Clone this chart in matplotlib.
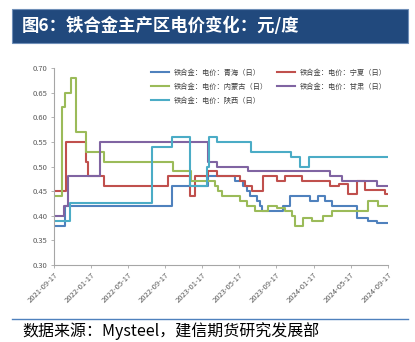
import pandas as pd
import matplotlib
matplotlib.use('Agg')
import matplotlib.pyplot as plt
import matplotlib.dates as mdates

plt.rcParams['font.family'] = ['Noto Sans CJK SC', 'DejaVu Sans']

# 数据（阶梯变化点，从图中读取）
END = '2024-09-17'

qh_dates = ['2021-09-17', '2021-10-23', '2022-10-10', '2023-02-05', '2023-05-04', '2023-05-31',
            '2023-06-11', '2023-06-22', '2023-07-14', '2023-07-25', '2023-08-01', '2023-10-08',
            '2023-11-02', '2024-01-05', '2024-02-01', '2024-02-23', '2024-03-17', '2024-06-06',
            '2024-07-13', '2024-08-11']
qh_vals = [0.38, 0.42, 0.46, 0.48, 0.47, 0.46, 0.45, 0.44, 0.43, 0.42, 0.41, 0.42,
           0.44, 0.43, 0.44, 0.43, 0.42, 0.395, 0.39, 0.385]

nx_dates = ['2021-09-17', '2021-10-25', '2021-12-31', '2022-01-07', '2022-03-01', '2022-09-26',
            '2022-12-07', '2022-12-24', '2023-02-05', '2023-03-05', '2023-05-20', '2023-06-06',
            '2023-06-29', '2023-08-05', '2023-09-18', '2023-10-15', '2023-12-09', '2024-03-11',
            '2024-04-09', '2024-05-10', '2024-06-06', '2024-07-04', '2024-09-07']
nx_vals = [0.45, 0.55, 0.51, 0.48, 0.46, 0.48, 0.44, 0.48, 0.49, 0.48, 0.47, 0.46,
           0.45, 0.48, 0.47, 0.48, 0.47, 0.46, 0.465, 0.445, 0.47, 0.452, 0.445]

nmg_dates = ['2021-09-17', '2021-10-14', '2021-10-23', '2021-11-11', '2021-11-27', '2021-12-31',
             '2022-03-01', '2022-10-11', '2022-12-11', '2023-02-27', '2023-03-09', '2023-03-21',
             '2023-05-20', '2023-06-11', '2023-07-09', '2023-08-21', '2023-09-18', '2023-10-15',
             '2023-11-06', '2023-11-17', '2023-12-14', '2024-01-11', '2024-02-16', '2024-03-16',
             '2024-07-12', '2024-08-14']
nmg_vals = [0.44, 0.62, 0.65, 0.68, 0.57, 0.53, 0.51, 0.49, 0.47, 0.46, 0.45, 0.44,
            0.43, 0.42, 0.41, 0.42, 0.415, 0.41, 0.40, 0.38, 0.395, 0.39, 0.40, 0.41,
            0.43, 0.42]

gs_dates = ['2021-09-17', '2021-10-21', '2021-11-03', '2022-02-15', '2023-02-05', '2023-03-05',
            '2023-06-17', '2024-03-11', '2024-04-18', '2024-08-11']
gs_vals = [0.40, 0.42, 0.48, 0.55, 0.51, 0.50, 0.49, 0.48, 0.47, 0.46]

sx_dates = ['2021-09-17', '2021-11-08', '2022-08-05', '2022-10-09', '2022-12-07', '2023-02-01',
            '2023-02-08', '2023-03-05', '2023-06-25', '2023-11-04', '2023-12-03', '2024-01-02']
sx_vals = [0.39, 0.425, 0.54, 0.56, 0.46, 0.50, 0.56, 0.55, 0.53, 0.52, 0.50, 0.52]

series = [
    ('铁合金：电价：青海（日）', qh_dates, qh_vals, '#4F81BD'),
    ('铁合金：电价：宁夏（日）', nx_dates, nx_vals, '#C0504D'),
    ('铁合金：电价：内蒙古（日）', nmg_dates, nmg_vals, '#9BBB59'),
    ('铁合金：电价：甘肃（日）', gs_dates, gs_vals, '#8064A2'),
    ('铁合金：电价：陕西（日）', sx_dates, sx_vals, '#4BACC6'),
]

fig = plt.figure(figsize=(4.15, 3.42), dpi=100)
fig.patch.set_facecolor('white')

# 标题栏
fig.patches.append(plt.Rectangle((12 / 415, 1 - 43 / 342), 396 / 415, 34 / 342,
                                 transform=fig.transFigure, facecolor='#21497D',
                                 edgecolor='#6F8FB8', linewidth=0.8))
fig.text(22 / 415, 1 - 26 / 342, '图6：铁合金主产区电价变化：元/度', color='white',
         fontsize=12.5, fontweight='bold', va='center', ha='left')

ax = fig.add_axes([54 / 415, 1 - 265 / 342, 334 / 415, 197 / 342])

handles = {}
for name, d, v, c in series:
    x = pd.to_datetime(d + [END])
    y = v + [v[-1]]
    ln, = ax.plot(x, y, drawstyle='steps-post', color=c, lw=1.5, label=name)
    handles[name] = ln

ax.set_xlim(pd.Timestamp('2021-09-17'), pd.Timestamp(END))
ax.set_ylim(0.30, 0.70)
ax.set_yticks([0.30, 0.35, 0.40, 0.45, 0.50, 0.55, 0.60, 0.65, 0.70])
ax.yaxis.set_major_formatter(plt.FormatStrFormatter('%.2f'))

ticks = pd.date_range('2021-09-01', '2024-09-01', freq='4MS') + pd.Timedelta(days=16)
ax.set_xticks(ticks)
ax.xaxis.set_major_formatter(mdates.DateFormatter('%Y-%m-%d'))
plt.setp(ax.get_xticklabels(), rotation=45, ha='right', rotation_mode='anchor')

for s in ['top', 'right']:
    ax.spines[s].set_visible(False)
for s in ['left', 'bottom']:
    ax.spines[s].set_color('#A6A6A6')
    ax.spines[s].set_linewidth(0.8)
ax.tick_params(axis='both', labelsize=5.5, colors='#A6A6A6', labelcolor='#595959',
               length=2.5, width=0.6, pad=2)

order = ['铁合金：电价：青海（日）', '铁合金：电价：内蒙古（日）', '铁合金：电价：陕西（日）',
         '铁合金：电价：宁夏（日）', '铁合金：电价：甘肃（日）']
ax.legend([handles[k] for k in order], order, loc='upper left', bbox_to_anchor=(0.27, 1.03),
          ncol=2, frameon=False, fontsize=5.2, handlelength=2.6, handletextpad=0.6,
          columnspacing=1.2, labelspacing=0.85, labelcolor='#404040')

# 底部来源
fig.add_artist(plt.Line2D([12 / 415, 408 / 415], [1 - 319 / 342, 1 - 319 / 342],
                          color='#4F81BD', lw=1.0))
fig.text(22 / 415, 1 - 331 / 342, '数据来源：Mysteel，建信期货研究发展部', color='black',
         fontsize=11.5, style='italic', va='center', ha='left')

fig.savefig('out.png', dpi=100)
